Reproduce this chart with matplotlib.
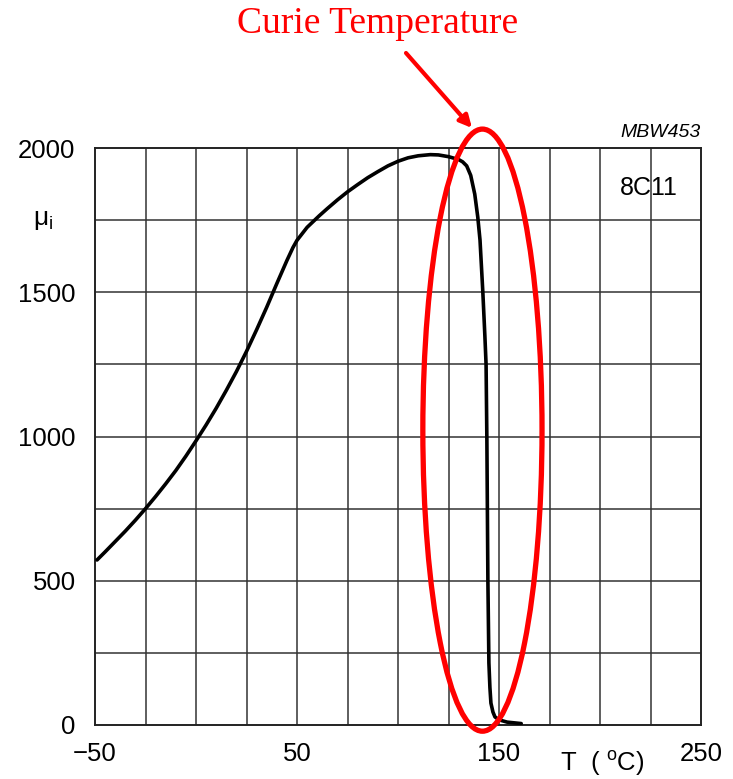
import matplotlib
matplotlib.use("Agg")
import matplotlib.pyplot as plt
from matplotlib.patches import Ellipse

# initial permeability vs temperature
temp_c = [-49, -45, -40, -35, -30, -25, -20, -15, -10, -5, 0, 5, 10, 15, 20, 25,
          30, 35, 40, 45, 48, 50, 55, 61, 65, 70, 75, 80, 85, 90, 95, 100, 105,
          110, 116, 120, 125, 130, 132, 134, 136, 138, 139.5, 140.6, 142, 143,
          143.6, 144, 144.5, 145, 145.5, 146, 147, 148, 150, 154, 161]
mu_i = [572, 600, 636, 672, 710, 750, 792, 836, 882, 932, 985, 1040, 1098, 1160,
        1225, 1295, 1370, 1448, 1530, 1610, 1655, 1680, 1725, 1765, 1790, 1820,
        1848, 1873, 1897, 1918, 1938, 1954, 1966, 1973, 1977, 1976, 1970, 1960,
        1952, 1938, 1905, 1840, 1760, 1681, 1500, 1350, 1250, 988, 500, 215, 130,
        76, 45, 28, 18, 10, 5]

x_ticks = [-50, 50, 150, 250]
x_tick_labels = ["\u221250", "50", "150", "250"]
y_ticks = [0, 500, 1000, 1500, 2000]

plt.rcParams["font.family"] = ["Liberation Sans", "DejaVu Sans"]

fig = plt.figure(figsize=(7.33, 7.79), dpi=100)
ax = fig.add_axes([95 / 733, 1 - 725 / 779, 606 / 733, 577 / 779])

ax.set_xlim(-50, 250)
ax.set_ylim(0, 2000)

# grid every 25 degC and every 250
for gx in range(-25, 250, 25):
    ax.axvline(gx, color="#333333", lw=1.1, zorder=1)
for gy in range(250, 2000, 250):
    ax.axhline(gy, color="#333333", lw=1.1, zorder=1)
for s in ax.spines.values():
    s.set_linewidth(1.4)
    s.set_color("#222222")

ax.plot(temp_c, mu_i, color="black", lw=2.6, solid_joinstyle="round",
        solid_capstyle="round", zorder=3)

ax.set_xticks(x_ticks)
ax.set_xticklabels(x_tick_labels)
ax.set_yticks(y_ticks)
ax.tick_params(length=0, labelsize=18.5)
ax.tick_params(axis="x", pad=12)
ax.tick_params(axis="y", pad=14)

ax.text(-75.5, 1750, r"$\mathregular{\mu_i}$", fontsize=19, ha="center", va="center")
ax.text(201, -132, r"T  ( $\mathregular{^o}$C)", fontsize=18.5, ha="center",
        va="center", clip_on=False)
ax.text(250, 2025, "MBW453", fontsize=14, style="italic", ha="right", va="bottom")
ax.text(224, 1862, "8C11", fontsize=18, ha="center", va="center", zorder=2)

# highlight around the drop
ell = Ellipse((141.8, 1022), 59, 2087, fill=False, edgecolor="red", lw=3.8,
              zorder=4, clip_on=False)
ax.add_patch(ell)

fig.text(378 / 733, 1 - 24 / 779, "Curie Temperature", color="red", fontsize=27,
         family="Liberation Serif", ha="center", va="center")
ax.annotate("", xy=(472 / 733, 1 - 128 / 779), xycoords="figure fraction",
            xytext=(406 / 733, 1 - 53 / 779), textcoords="figure fraction",
            arrowprops=dict(arrowstyle="-|>", color="red", lw=3,
                            mutation_scale=18, shrinkA=0, shrinkB=0))

fig.savefig("out.png", dpi=100)
